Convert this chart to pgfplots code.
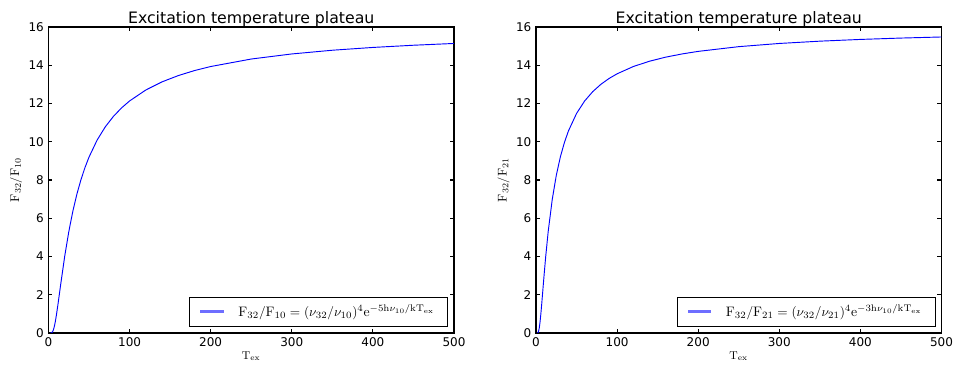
\documentclass[border=0pt]{standalone}
\usepackage{fontspec}
\newfontfamily\dejavu{DejaVu Sans}
\usepackage{pgfplots}
\pgfplotsset{compat=1.18}
\definecolor{legblue}{RGB}{110,110,255}

% Line ratios F32/F10 and F32/F21 against excitation temperature
\pgfplotstableread{
T     r
2     0.0000
3     0.0016
4     0.0159
5     0.0632
6     0.159
7     0.306
8     0.504
9     0.740
10    1.006
12    1.597
15    2.531
20    4.013
25    5.291
30    6.363
35    7.260
40    8.013
45    8.653
50    9.201
60    10.091
70    10.777
80    11.323
90    11.766
100   12.133
120   12.706
140   13.131
160   13.459
180   13.721
200   13.933
250   14.325
300   14.590
350   14.785
400   14.931
450   15.046
500   15.139
}\ratioA

\pgfplotstableread{
T     r
1     0.0000
2     0.0040
3     0.0632
4     0.252
5     0.578
6     1.006
7     1.487
8     2.009
10    3.042
12    4.012
15    5.290
20    6.976
25    8.237
30    9.201
35    9.957
40    10.565
50    11.480
60    12.133
70    12.622
80    13.002
90    13.306
100   13.552
120   13.933
140   14.211
160   14.424
180   14.590
200   14.725
250   14.972
300   15.139
350   15.259
400   15.350
450   15.421
500   15.478
}\ratioB

\pgfplotsset{
  plateau/.style={
    scale only axis,
    width=304.1pt, height=229.5pt,
    xmin=0, xmax=500, ymin=0, ymax=16,
    xtick={0,100,...,500}, ytick={0,2,...,16},
    tick align=inside, major tick length=3pt,
    axis line style={line width=0.8pt},
    tick style={black, line width=0.8pt},
    tick label style={font=\dejavu\fontsize{9}{11}\selectfont},
    /pgf/number format/assume math mode=true,
    title style={font=\dejavu\fontsize{11.8}{14}\selectfont, yshift=-9.5pt},
    title={Excitation temperature plateau},
    xlabel={$\mathrm{T_{ex}}$},
    xlabel style={font=\fontsize{8.5}{10}\selectfont, yshift=3pt},
    ylabel style={font=\fontsize{9.5}{11}\selectfont, yshift=-2pt},
    legend cell align=left,
    legend style={at={(0.985,0.02)}, anchor=south east,
      font=\fontsize{10.3}{12}\selectfont,
      inner xsep=8pt, inner ysep=4pt,
      /tikz/every odd column/.append style={column sep=9pt}},
    legend image code/.code={%
      \fill[legblue] (0cm,-0.6pt) rectangle (0.6cm,0.6pt);},
  }
}

\begin{document}
\begin{tikzpicture}
\useasboundingbox (0,0) rectangle (715.5pt,275.25pt);

\begin{axis}[plateau, at={(36.375pt,25.5pt)}, anchor=south west,
  ylabel={$\mathrm{F_{32}/F_{10}}$}]
  \addplot[blue, line width=0.7pt] table[x=T, y=r] {\ratioA};
  \addlegendentry{$\mathrm{F_{32}/F_{10}=(\nu_{32}/\nu_{10})^4e^{-5h\nu_{10}/kT_{ex}}}$}
\end{axis}

\begin{axis}[plateau, at={(402pt,25.5pt)}, anchor=south west,
  ylabel={$\mathrm{F_{32}/F_{21}}$}]
  \addplot[blue, line width=0.7pt] table[x=T, y=r] {\ratioB};
  \addlegendentry{$\mathrm{F_{32}/F_{21}=(\nu_{32}/\nu_{21})^4e^{-3h\nu_{10}/kT_{ex}}}$}
\end{axis}
\end{tikzpicture}
\end{document}
